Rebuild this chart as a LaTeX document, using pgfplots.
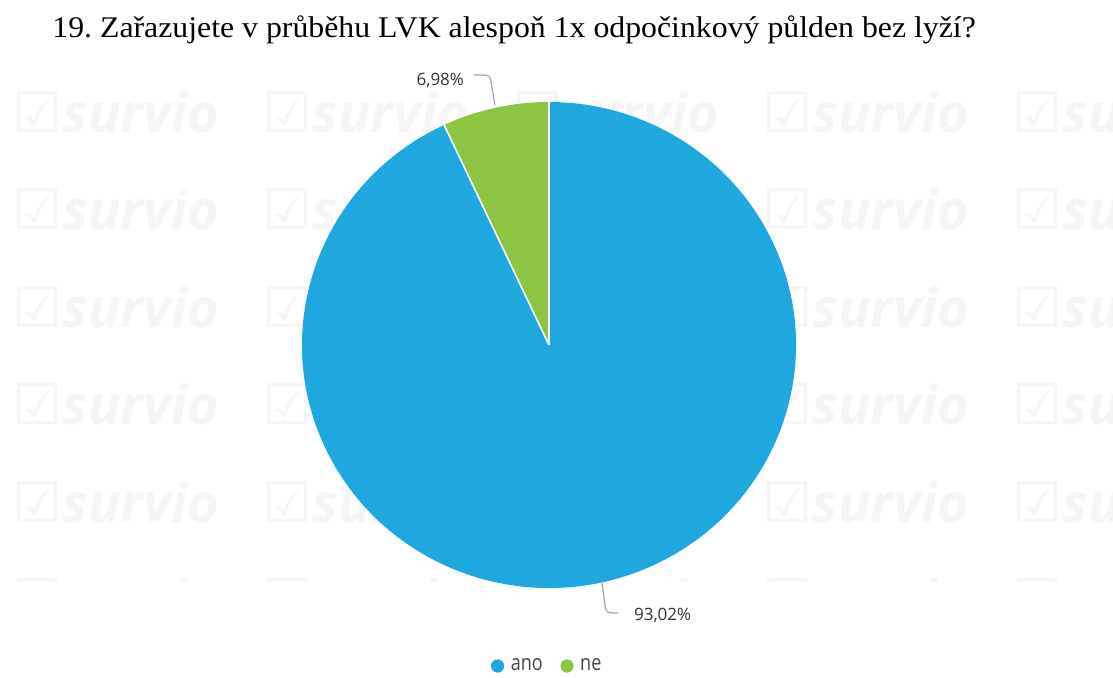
\documentclass[border=0pt]{standalone}
\usepackage{pgfplots}
\pgfplotsset{compat=1.18}
\usepackage{pgfplotstable}
\usepackage{fontspec}
\setmainfont{Liberation Serif}
\newfontfamily\labelfont{Open Sans}
\newfontfamily\legfont[FakeStretch=0.82]{Open Sans}
\newfontfamily\wmfont{Open Sans}
\newfontfamily\symfont{DejaVu Sans}
\definecolor{anoblue}{RGB}{31,168,224}
\definecolor{negreen}{RGB}{139,197,66}
\definecolor{wm}{RGB}{245,245,245}
\definecolor{leader}{RGB}{165,165,165}
\frenchspacing

\pgfplotstableread{
label value
ano 93.02
ne 6.98
}\piedata
\pgfplotstablegetelem{0}{value}\of\piedata \let\vano\pgfplotsretval
\pgfplotstablegetelem{1}{value}\of\piedata \let\vne\pgfplotsretval
\pgfmathsetmacro\aA{90}
\pgfmathsetmacro\aB{90+3.6*\vne}
\pgfmathsetmacro\aC{\aB+3.6*\vano}

\begin{document}
\begin{tikzpicture}
\useasboundingbox (0,0) rectangle (556.5pt,338.5pt);
\fill[white] (0,0) rectangle (556.5pt,338.5pt);
% watermark
\begin{scope}
\clip (0,48pt) rectangle (556.5pt,304pt);
\foreach \r in {0,...,5}{
  \foreach \c in {0,...,4}{
    \node[anchor=west, text=wm, inner sep=0pt] at ({(12+250*\c)*0.5pt},{(677-112-97.5*\r)*0.5pt})
      {{\symfont\bfseries\fontsize{28}{28}\selectfont\symbol{"2611}}{\wmfont\bfseries\itshape\fontsize{27}{27}\selectfont survio}};
  }
}
\end{scope}
\begin{axis}[
  at={(0,0)}, anchor=south west,
  scale only axis, width=556.5pt, height=338.5pt,
  xmin=0, xmax=1113, ymin=0, ymax=677,
  hide axis, clip=false,
  legend style={at={(axis cs:485,11)}, anchor=west, draw=none, fill=none,
    legend columns=2, font=\legfont\fontsize{11}{12}\selectfont,
    text=black!72,
    /tikz/every even column/.append style={column sep=7pt}},
]
\addlegendimage{only marks, mark=*, mark size=3.1pt, mark options={draw=anoblue, fill=anoblue}}
\addlegendentry{\hspace{1.5pt}ano}
\addlegendimage{only marks, mark=*, mark size=3.1pt, mark options={draw=negreen, fill=negreen}}
\addlegendentry{\hspace{1.5pt}ne}
% slices
\fill[anoblue] (axis cs:549,332) -- ++(\aB:123.5pt and 121.5pt)
   arc[start angle=\aB, end angle=\aC, x radius=123.5pt, y radius=121.5pt] -- cycle;
\fill[negreen] (axis cs:549,332) -- ++(\aA:123.5pt and 121.5pt)
   arc[start angle=\aA, end angle=\aB, x radius=123.5pt, y radius=121.5pt] -- cycle;
\draw[white, line width=0.8pt] (axis cs:549,332) -- ++(\aA:123.5pt and 121.5pt);
\draw[white, line width=0.8pt] (axis cs:549,332) -- ++(\aB:123.5pt and 121.5pt);
% leader lines
\draw[leader, line width=0.6pt] (axis cs:474,602) -- (axis cs:484,602)
   .. controls (axis cs:490,601) .. (axis cs:491,595) -- (axis cs:495,572);
\draw[leader, line width=0.6pt] (axis cs:602,94) -- (axis cs:605,72)
   .. controls (axis cs:606,65) .. (axis cs:612,64) -- (axis cs:618,64);
% labels
\node[anchor=east, text=black!80, font=\labelfont\fontsize{8.5}{10}\selectfont] at (axis cs:471,597) {6,98\%};
\node[anchor=west, text=black!80, font=\labelfont\fontsize{8.5}{10}\selectfont] at (axis cs:627,62) {93,02\%};
% title
\node[anchor=base west, inner sep=0pt, xscale=1.06, font=\fontsize{15}{18}\selectfont] at (axis cs:52,640)
  {19. Zařazujete v průběhu LVK alespoň 1x odpočinkový půlden bez lyží?};
\end{axis}
\end{tikzpicture}
\end{document}
